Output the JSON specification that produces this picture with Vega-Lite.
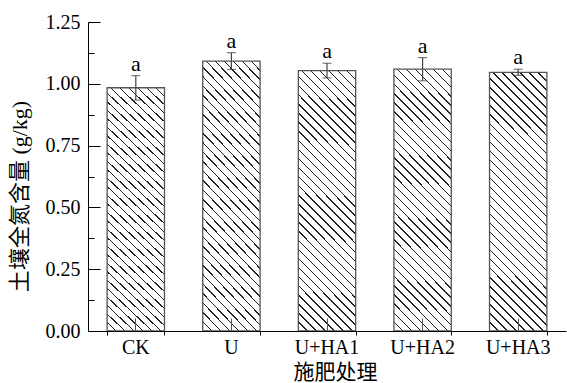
{
  "$schema": "https://vega.github.io/schema/vega-lite/v6.json",
  "autosize": "none",
  "width": 478,
  "height": 309,
  "padding": {"left": 88, "top": 22, "right": 1, "bottom": 52},
  "background": "white",
  "config": {"view": {"stroke": null}, "axis": {"grid": false, "labelFont": "Liberation Serif", "titleFont": "Liberation Serif, Noto Sans CJK SC", "domainColor": "#000", "tickColor": "#000", "labelColor": "#000", "titleColor": "#000", "titleFontWeight": "normal"}},
  "data": {"values": [
    {"trt": "CK", "mean": 0.984, "lo": 0.934, "hi": 1.033, "sig": "a"},
    {"trt": "U", "mean": 1.092, "lo": 1.058, "hi": 1.126, "sig": "a"},
    {"trt": "U+HA1", "mean": 1.053, "lo": 1.024, "hi": 1.083, "sig": "a"},
    {"trt": "U+HA2", "mean": 1.059, "lo": 1.012, "hi": 1.106, "sig": "a"},
    {"trt": "U+HA3", "mean": 1.046, "lo": 1.034, "hi": 1.059, "sig": "a"}
  ]},
  "layer": [
    {
      "mark": {"type": "bar", "stroke": "#555", "strokeWidth": 1.3, "fill": {"gradient": "linear", "x1": 0, "y1": 1, "x2": 0.2592, "y2": -0.165, "stops": [
        {"offset": 0, "color": "#fff"},
        {"offset": 0.0263, "color": "#fff"}, {"offset": 0.0263, "color": "#222"}, {"offset": 0.0309, "color": "#222"}, {"offset": 0.0309, "color": "#fff"},
        {"offset": 0.0548, "color": "#fff"}, {"offset": 0.0548, "color": "#222"}, {"offset": 0.0594, "color": "#222"}, {"offset": 0.0594, "color": "#fff"},
        {"offset": 0.0834, "color": "#fff"}, {"offset": 0.0834, "color": "#222"}, {"offset": 0.0880, "color": "#222"}, {"offset": 0.0880, "color": "#fff"},
        {"offset": 0.1120, "color": "#fff"}, {"offset": 0.1120, "color": "#222"}, {"offset": 0.1166, "color": "#222"}, {"offset": 0.1166, "color": "#fff"},
        {"offset": 0.1406, "color": "#fff"}, {"offset": 0.1406, "color": "#222"}, {"offset": 0.1452, "color": "#222"}, {"offset": 0.1452, "color": "#fff"},
        {"offset": 0.1691, "color": "#fff"}, {"offset": 0.1691, "color": "#222"}, {"offset": 0.1737, "color": "#222"}, {"offset": 0.1737, "color": "#fff"},
        {"offset": 0.1977, "color": "#fff"}, {"offset": 0.1977, "color": "#222"}, {"offset": 0.2023, "color": "#222"}, {"offset": 0.2023, "color": "#fff"},
        {"offset": 0.2263, "color": "#fff"}, {"offset": 0.2263, "color": "#222"}, {"offset": 0.2309, "color": "#222"}, {"offset": 0.2309, "color": "#fff"},
        {"offset": 0.2548, "color": "#fff"}, {"offset": 0.2548, "color": "#222"}, {"offset": 0.2594, "color": "#222"}, {"offset": 0.2594, "color": "#fff"},
        {"offset": 0.2834, "color": "#fff"}, {"offset": 0.2834, "color": "#222"}, {"offset": 0.2880, "color": "#222"}, {"offset": 0.2880, "color": "#fff"},
        {"offset": 0.3120, "color": "#fff"}, {"offset": 0.3120, "color": "#222"}, {"offset": 0.3166, "color": "#222"}, {"offset": 0.3166, "color": "#fff"},
        {"offset": 0.3406, "color": "#fff"}, {"offset": 0.3406, "color": "#222"}, {"offset": 0.3452, "color": "#222"}, {"offset": 0.3452, "color": "#fff"},
        {"offset": 0.3691, "color": "#fff"}, {"offset": 0.3691, "color": "#222"}, {"offset": 0.3737, "color": "#222"}, {"offset": 0.3737, "color": "#fff"},
        {"offset": 0.3977, "color": "#fff"}, {"offset": 0.3977, "color": "#222"}, {"offset": 0.4023, "color": "#222"}, {"offset": 0.4023, "color": "#fff"},
        {"offset": 0.4263, "color": "#fff"}, {"offset": 0.4263, "color": "#222"}, {"offset": 0.4309, "color": "#222"}, {"offset": 0.4309, "color": "#fff"},
        {"offset": 0.4548, "color": "#fff"}, {"offset": 0.4548, "color": "#222"}, {"offset": 0.4594, "color": "#222"}, {"offset": 0.4594, "color": "#fff"},
        {"offset": 0.4834, "color": "#fff"}, {"offset": 0.4834, "color": "#222"}, {"offset": 0.4880, "color": "#222"}, {"offset": 0.4880, "color": "#fff"},
        {"offset": 0.5120, "color": "#fff"}, {"offset": 0.5120, "color": "#222"}, {"offset": 0.5166, "color": "#222"}, {"offset": 0.5166, "color": "#fff"},
        {"offset": 0.5406, "color": "#fff"}, {"offset": 0.5406, "color": "#222"}, {"offset": 0.5452, "color": "#222"}, {"offset": 0.5452, "color": "#fff"},
        {"offset": 0.5691, "color": "#fff"}, {"offset": 0.5691, "color": "#222"}, {"offset": 0.5737, "color": "#222"}, {"offset": 0.5737, "color": "#fff"},
        {"offset": 0.5977, "color": "#fff"}, {"offset": 0.5977, "color": "#222"}, {"offset": 0.6023, "color": "#222"}, {"offset": 0.6023, "color": "#fff"},
        {"offset": 0.6263, "color": "#fff"}, {"offset": 0.6263, "color": "#222"}, {"offset": 0.6309, "color": "#222"}, {"offset": 0.6309, "color": "#fff"},
        {"offset": 0.6548, "color": "#fff"}, {"offset": 0.6548, "color": "#222"}, {"offset": 0.6594, "color": "#222"}, {"offset": 0.6594, "color": "#fff"},
        {"offset": 0.6834, "color": "#fff"}, {"offset": 0.6834, "color": "#222"}, {"offset": 0.6880, "color": "#222"}, {"offset": 0.6880, "color": "#fff"},
        {"offset": 0.7120, "color": "#fff"}, {"offset": 0.7120, "color": "#222"}, {"offset": 0.7166, "color": "#222"}, {"offset": 0.7166, "color": "#fff"},
        {"offset": 0.7406, "color": "#fff"}, {"offset": 0.7406, "color": "#222"}, {"offset": 0.7452, "color": "#222"}, {"offset": 0.7452, "color": "#fff"},
        {"offset": 0.7691, "color": "#fff"}, {"offset": 0.7691, "color": "#222"}, {"offset": 0.7737, "color": "#222"}, {"offset": 0.7737, "color": "#fff"},
        {"offset": 0.7977, "color": "#fff"}, {"offset": 0.7977, "color": "#222"}, {"offset": 0.8023, "color": "#222"}, {"offset": 0.8023, "color": "#fff"},
        {"offset": 0.8263, "color": "#fff"}, {"offset": 0.8263, "color": "#222"}, {"offset": 0.8309, "color": "#222"}, {"offset": 0.8309, "color": "#fff"},
        {"offset": 0.8548, "color": "#fff"}, {"offset": 0.8548, "color": "#222"}, {"offset": 0.8594, "color": "#222"}, {"offset": 0.8594, "color": "#fff"},
        {"offset": 0.8834, "color": "#fff"}, {"offset": 0.8834, "color": "#222"}, {"offset": 0.8880, "color": "#222"}, {"offset": 0.8880, "color": "#fff"},
        {"offset": 0.9120, "color": "#fff"}, {"offset": 0.9120, "color": "#222"}, {"offset": 0.9166, "color": "#222"}, {"offset": 0.9166, "color": "#fff"},
        {"offset": 0.9406, "color": "#fff"}, {"offset": 0.9406, "color": "#222"}, {"offset": 0.9452, "color": "#222"}, {"offset": 0.9452, "color": "#fff"},
        {"offset": 0.9691, "color": "#fff"}, {"offset": 0.9691, "color": "#222"}, {"offset": 0.9737, "color": "#222"}, {"offset": 0.9737, "color": "#fff"},
        {"offset": 1, "color": "#fff"}
      ]}},
      "encoding": {
        "x": {"field": "trt", "type": "nominal", "sort": null,
          "scale": {"paddingInner": 0.4, "paddingOuter": 0.2},
          "axis": {"orient": "bottom", "title": "施肥处理", "labelAngle": 0, "tickSize": -13, "tickColor": "#555", "labelPadding": 19, "labelFontSize": 20, "titleFontSize": 21, "titleX": 247, "titleY": 41, "titleBaseline": "middle", "titleAlign": "center", "zindex": 1}},
        "y": {"field": "mean", "type": "quantitative",
          "scale": {"domain": [0, 1.25], "nice": false, "zero": true},
          "axis": {"orient": "left", "values": [0, 0.25, 0.5, 0.75, 1, 1.25], "format": ".2f", "tickSize": -12, "labelPadding": 20, "labelFontSize": 20, "title": "土壤全氮含量 (g/kg)", "titleFontSize": 22, "titleAngle": -90, "titleX": -69, "titleY": 174, "titleBaseline": "middle", "titleAlign": "center", "zindex": 1}}
      }
    },
    {
      "mark": {"type": "rule", "color": "#444", "strokeWidth": 1.2},
      "encoding": {
        "x": {"field": "trt", "type": "nominal", "sort": null,
          "axis": {"orient": "bottom", "tickBand": "extent", "tickSize": 4, "labels": false, "domain": false, "title": null, "zindex": 1}},
        "y": {"field": "lo", "type": "quantitative",
          "axis": {"orient": "left", "values": [0.125, 0.375, 0.625, 0.875, 1.125], "tickSize": -6, "labels": false, "domain": false, "title": null, "zindex": 1}},
        "y2": {"field": "hi"}
      }
    },
    {
      "mark": {"type": "tick", "color": "#444", "size": 9, "thickness": 1.2},
      "encoding": {
        "x": {"field": "trt", "type": "nominal", "sort": null, "axis": null},
        "y": {"field": "lo", "type": "quantitative", "axis": null}
      }
    },
    {
      "mark": {"type": "tick", "color": "#444", "size": 9, "thickness": 1.2},
      "encoding": {
        "x": {"field": "trt", "type": "nominal", "sort": null, "axis": null},
        "y": {"field": "hi", "type": "quantitative", "axis": null}
      }
    },
    {
      "mark": {"type": "text", "font": "Liberation Serif", "fontSize": 22, "baseline": "alphabetic", "dy": -5, "color": "#000"},
      "encoding": {
        "x": {"field": "trt", "type": "nominal", "sort": null, "axis": null},
        "y": {"field": "hi", "type": "quantitative", "axis": null},
        "text": {"field": "sig"}
      }
    }
  ],
  "resolve": {"axis": {"x": "independent", "y": "independent"}}
}
